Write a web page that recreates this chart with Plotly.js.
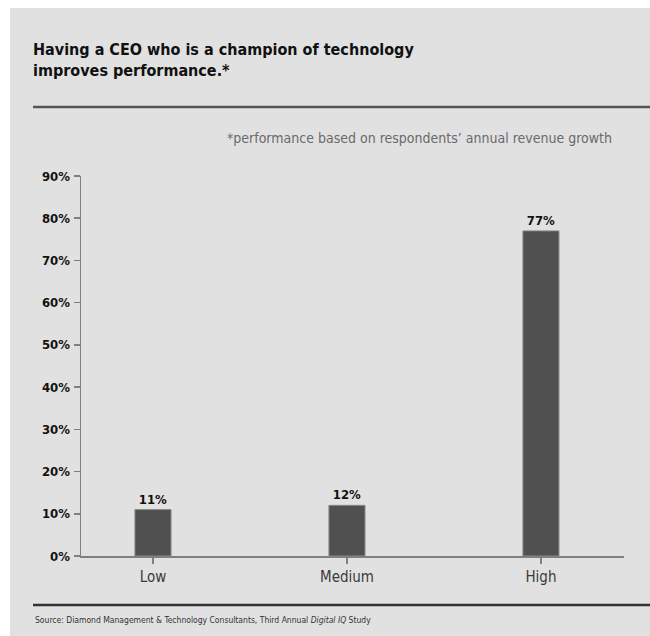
<!DOCTYPE html>
<html>
<head>
<meta charset="utf-8">
<script src="https://cdn.plot.ly/plotly-3.0.1.min.js"></script>
<style>
html,body{margin:0;padding:0;background:#ffffff;width:650px;height:636px;overflow:hidden;}
#chart{position:absolute;left:10px;top:8px;width:640px;height:628px;}
</style>
</head>
<body>
<div id="chart"></div>
<script>
var categories = ["Low", "Medium", "High"];
var values = [11, 12, 77];
var valueLabels = ["11%", "12%", "77%"];
var yTickVals = [0, 10, 20, 30, 40, 50, 60, 70, 80, 90];
var yTickText = ["0%", "10%", "20%", "30%", "40%", "50%", "60%", "70%", "80%", "90%"];
var titleText = "Having a CEO who is a champion of technology<br>improves performance.*";
var noteText = "*performance based on respondents’ annual revenue growth";
var sourceText = "Source: Diamond Management &amp; Technology Consultants, Third Annual <i>Digital IQ</i> Study";

var NARROW = '"Liberation Sans Narrow", "Arial Narrow", "DejaVu Sans Condensed", sans-serif';

var trace = {
  type: "bar",
  x: categories,
  y: values,
  width: 0.186,
  marker: {color: "#505050", line: {color: "#8a8a8a", width: 1}},
  text: valueLabels,
  textposition: "outside",
  cliponaxis: false,
  textfont: {family: NARROW, size: 13, color: "#111111", weight: "bold"},
  hoverinfo: "skip"
};

var layout = {
  width: 640,
  height: 628,
  paper_bgcolor: "#e1e1e1",
  plot_bgcolor: "#e1e1e1",
  margin: {l: 71, r: 26, t: 168, b: 80, pad: 0},
  showlegend: false,
  title: {
    text: titleText,
    xref: "container", yref: "container",
    x: 23 / 640, xanchor: "left",
    y: 1 - (47 / 628), yanchor: "top",
    font: {family: NARROW, size: 16, color: "#111111", weight: "bold"}
  },
  xaxis: {
    range: [-0.371, 2.428],
    showline: true, linecolor: "#808080", linewidth: 1.5,
    ticks: "outside", ticklen: 6, tickcolor: "#808080", tickwidth: 1.5,
    ticklabelstandoff: 0,
    tickfont: {family: NARROW, size: 15, color: "#3a3a3a"},
    showgrid: false, zeroline: false, fixedrange: true
  },
  yaxis: {
    range: [0, 90],
    tickvals: yTickVals, ticktext: yTickText,
    showline: true, linecolor: "#808080", linewidth: 1.5,
    ticks: "outside", ticklen: 6, tickcolor: "#808080", tickwidth: 1.5,
    ticklabelstandoff: 1,
    tickfont: {family: NARROW, size: 13, color: "#111111", weight: "bold"},
    showgrid: false, zeroline: false, fixedrange: true
  },
  shapes: [
    {type: "line", xref: "paper", yref: "paper",
     x0: (33 - 81) / 543, x1: (652 - 81) / 543,
     y0: (556 - 107) / 380, y1: (556 - 107) / 380,
     line: {color: "#555555", width: 2.5}},
    {type: "line", xref: "paper", yref: "paper",
     x0: (33 - 81) / 543, x1: (652 - 81) / 543,
     y0: (556 - 605) / 380, y1: (556 - 605) / 380,
     line: {color: "#333333", width: 2.5}}
  ],
  annotations: [
    {text: noteText, xref: "paper", yref: "paper",
     x: (614 - 81) / 543, xanchor: "right",
     y: (556 - 138) / 380, yanchor: "middle",
     showarrow: false,
     font: {family: NARROW, size: 14, color: "#6a6a6a"}},
    {text: sourceText, xref: "paper", yref: "paper",
     x: (33 - 81) / 543, xanchor: "left",
     y: (556 - 620) / 380, yanchor: "middle",
     showarrow: false,
     font: {family: NARROW, size: 8.5, color: "#333333"}}
  ]
};

Plotly.newPlot("chart", [trace], layout, {displayModeBar: false, staticPlot: true});
</script>
</body>
</html>
